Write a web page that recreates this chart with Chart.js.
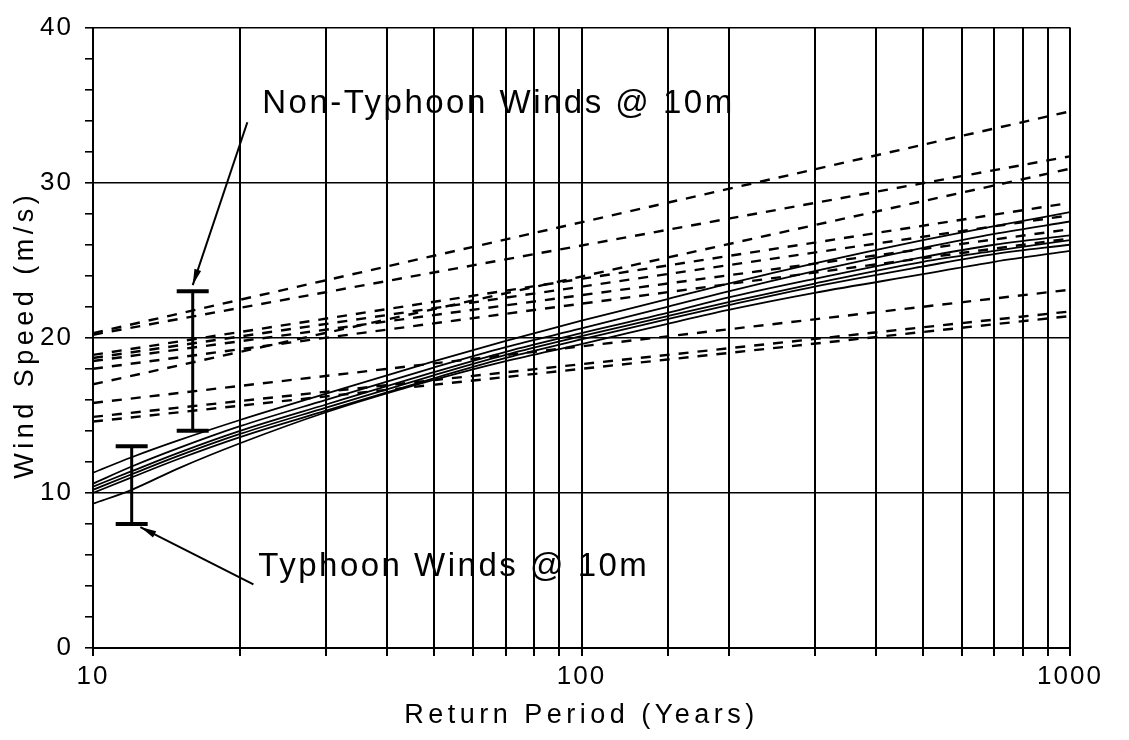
<!DOCTYPE html>
<html>
<head>
<meta charset="utf-8">
<title>Wind Speed vs Return Period</title>
<script src="https://cdn.jsdelivr.net/npm/chart.js@4.4.0/dist/chart.umd.min.js"></script>
<style>
  html, body { margin: 0; padding: 0; background: #fff; }
  #wrap { width: 1129px; height: 740px; }
</style>
</head>
<body>
<div id="wrap"><canvas id="chart" width="1129" height="740"></canvas></div>
<script>
// return periods (years) where the typhoon curves were read
const returnPeriods = [10, 12, 15, 20, 30, 50, 70, 100, 150, 200, 300, 500, 700, 1000];

// typhoon winds @ 10m (solid curves), m/s
const typhoonA = [11.3, 12.3, 13.4, 14.7, 16.4, 18.5, 19.8, 21.1, 22.5, 23.5, 24.8, 26.3, 27.2, 28.1];
const typhoonB = [10.6, 11.7, 12.9, 14.3, 16.0, 18.1, 19.4, 20.6, 22.0, 23.0, 24.3, 25.8, 26.7, 27.5];
const typhoonC = [10.4, 11.4, 12.6, 14.0, 15.7, 17.8, 19.1, 20.3, 21.6, 22.6, 23.8, 25.2, 26.0, 26.6];
const typhoonD = [10.2, 11.2, 12.4, 13.8, 15.5, 17.6, 18.9, 20.1, 21.4, 22.3, 23.5, 24.9, 25.6, 26.3];
const typhoonE = [10.0, 11.0, 12.2, 13.6, 15.3, 17.4, 18.7, 19.9, 21.2, 22.1, 23.3, 24.6, 25.4, 26.0];
const typhoonF = [9.3, 10.2, 11.6, 13.2, 15.2, 17.3, 18.5, 19.6, 20.9, 21.8, 22.9, 24.1, 24.9, 25.6];

// non-typhoon winds @ 10m (dashed, straight on log axis): value at 10 and 1000 years
const nonTyphoonPeriods = [10, 1000];
const nonTyphoonAt10 = [20.3, 20.2, 18.9, 18.7, 18.5, 18.0, 17.0, 15.8, 14.9, 14.6];
const nonTyphoonAt1000 = [34.6, 31.7, 28.7, 27.9, 27.0, 26.4, 30.9, 23.1, 21.7, 21.4];

// range bars
const nonTyphoonBarPeriod = 16;
const nonTyphoonBar = [14, 23];
const typhoonBarPeriod = 12;
const typhoonBar = [8, 13];

const xLabels = [10, 100, 1000];

const FONT = "'Liberation Sans', Arial, Helvetica, sans-serif";
Chart.defaults.font.family = FONT;
Chart.defaults.color = "#000";

const typhoonSets = [typhoonA, typhoonB, typhoonC, typhoonD, typhoonE, typhoonF];

const datasets = [];

nonTyphoonAt10.forEach((v, i) => {
  datasets.push({
    data: [
      { x: nonTyphoonPeriods[0], y: v },
      { x: nonTyphoonPeriods[1], y: nonTyphoonAt1000[i] },
    ],
    borderColor: "#000",
    borderWidth: 2.4,
    borderDash: [10, 9],
    pointRadius: 0,
  });
});

typhoonSets.forEach((vals) => {
  datasets.push({
    data: returnPeriods.map((t, i) => ({ x: t, y: vals[i] })),
    borderColor: "#000",
    borderWidth: 1.8,
    cubicInterpolationMode: "monotone",
    pointRadius: 0,
  });
});

[[nonTyphoonBarPeriod, nonTyphoonBar], [typhoonBarPeriod, typhoonBar]].forEach(([t, r]) => {
  datasets.push({
    data: r.map((v) => ({ x: t, y: v })),
    borderColor: "#000",
    borderWidth: 3,
    pointStyle: "line",
    pointRadius: 16,
    pointBorderWidth: 4,
    pointBorderColor: "#000",
    pointHoverRadius: 16,
  });
});

function arrow(ctx, x0, y0, x1, y1) {
  const a = Math.atan2(y1 - y0, x1 - x0);
  ctx.beginPath();
  ctx.moveTo(x0, y0);
  ctx.lineTo(x1, y1);
  ctx.stroke();
  ctx.beginPath();
  ctx.moveTo(x1, y1);
  ctx.lineTo(x1 - 16 * Math.cos(a) + 3.5 * Math.sin(a), y1 - 16 * Math.sin(a) - 3.5 * Math.cos(a));
  ctx.lineTo(x1 - 16 * Math.cos(a) - 3.5 * Math.sin(a), y1 - 16 * Math.sin(a) + 3.5 * Math.cos(a));
  ctx.closePath();
  ctx.fill();
}

const annotate = {
  id: "annotate",
  beforeDraw(chart) {
    chart.ctx.letterSpacing = "2px";
  },
  afterDraw(chart) {
    const { ctx, chartArea } = chart;
    const x = chart.scales.x;
    const y = chart.scales.y;
    ctx.save();
    ctx.fillStyle = "#000";
    ctx.strokeStyle = "#000";
    ctx.lineWidth = 2;

    // axis titles
    ctx.letterSpacing = "4.5px";
    ctx.font = "27px " + FONT;
    ctx.textAlign = "center";
    ctx.textBaseline = "middle";
    ctx.fillText("Return Period (Years)", (chartArea.left + chartArea.right) / 2, 716);
    ctx.save();
    ctx.translate(26, (chartArea.top + chartArea.bottom) / 2 - 3);
    ctx.rotate(-Math.PI / 2);
    ctx.fillText("Wind Speed (m/s)", 0, 0);
    ctx.restore();

    // labels
    ctx.letterSpacing = "2.5px";
    ctx.font = "33px " + FONT;
    ctx.textAlign = "left";
    ctx.fillText("Non-Typhoon Winds @ 10m", x.getPixelForValue(22.2), y.getPixelForValue(35.1));
    ctx.fillText("Typhoon Winds @ 10m", x.getPixelForValue(21.8), y.getPixelForValue(5.2));

    arrow(ctx, x.getPixelForValue(20.7), y.getPixelForValue(33.9), x.getPixelForValue(16.0), y.getPixelForValue(23.4));
    arrow(ctx, x.getPixelForValue(21.3), y.getPixelForValue(4.1), x.getPixelForValue(12.5), y.getPixelForValue(7.8));
    ctx.restore();
  },
};

new Chart(document.getElementById("chart"), {
  type: "line",
  data: { datasets },
  plugins: [annotate],
  options: {
    responsive: false,
    animation: false,
    events: [],
    layout: { padding: { top: 22, right: 59, left: 0, bottom: 0 } },
    plugins: {
      legend: { display: false },
      tooltip: { enabled: false },
    },
    scales: {
      x: {
        type: "logarithmic",
        min: 10,
        max: 1000,
        afterFit: (s) => { s.height = 92; },
        border: { color: "#000", width: 2 },
        grid: { color: "#000", lineWidth: 2, tickLength: 8, tickColor: "#000" },
        ticks: {
          autoSkip: false,
          maxRotation: 0,
          padding: 5,
          font: { size: 26 },
          color: "#000",
          callback: (v) => (xLabels.includes(v) ? String(v) : ""),
        },
      },
      y: {
        min: 0,
        max: 40,
        afterFit: (s) => { s.width = 93; },
        border: { color: "#000", width: 2 },
        grid: {
          color: (c) => (c.tick && Math.round(c.tick.value) % 10 === 0 ? "#000" : "rgba(0,0,0,0)"),
          lineWidth: 1.6,
          tickLength: 8,
          tickColor: "#000",
        },
        ticks: {
          autoSkip: false,
          stepSize: 2,
          padding: 12,
          font: { size: 26 },
          color: "#000",
          callback: (v) => (Math.round(v) % 10 === 0 ? String(Math.round(v)) : ""),
        },
      },
    },
  },
});
</script>
</body>
</html>
